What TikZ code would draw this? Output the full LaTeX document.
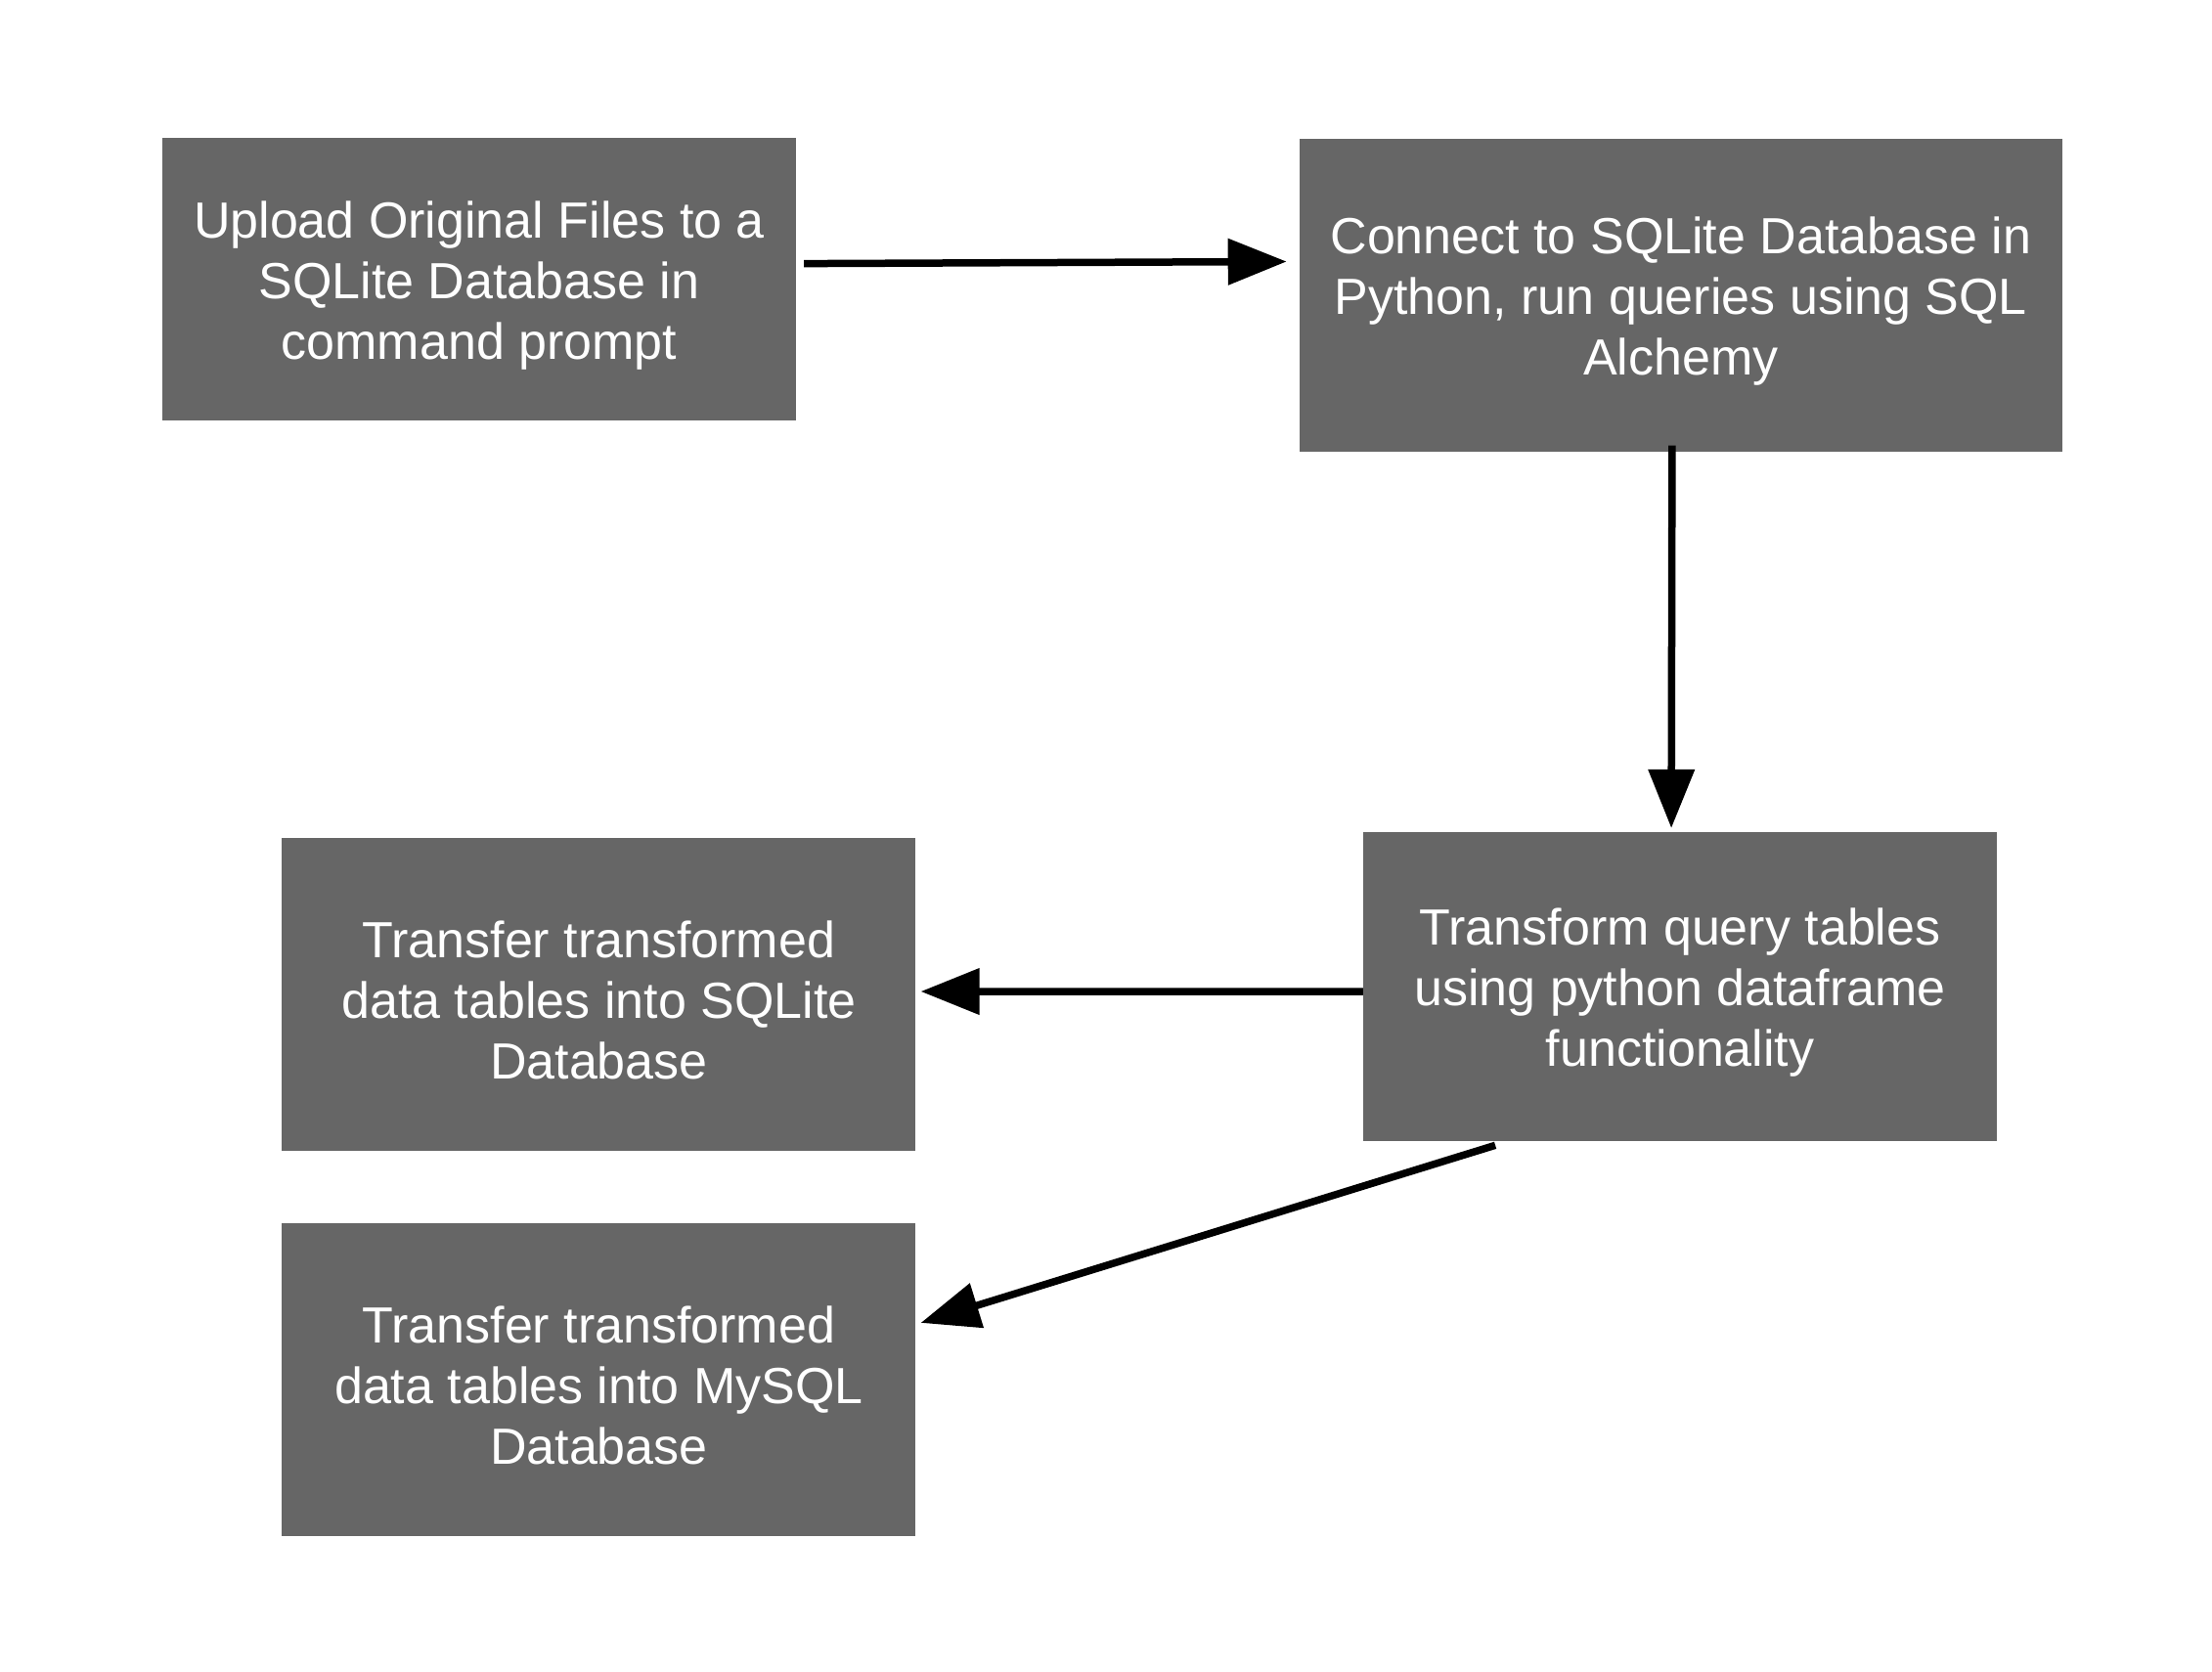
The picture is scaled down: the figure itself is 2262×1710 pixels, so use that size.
\documentclass[tikz,border=0pt]{standalone}
\usepackage{fontspec}
\setmainfont{Liberation Sans}
\usetikzlibrary{arrows.meta}
\definecolor{slate}{RGB}{102, 102, 102}
\definecolor{ink}{RGB}{0, 0, 0}
\newcommand{\topstrut}{\rule{0pt}{50pt}}
\begin{document}
\begin{tikzpicture}[x=1pt, y=-1pt,
        stepbox/.style={fill=slate, draw=none, text=white, align=center, inner sep=0pt,
                        minimum width=648pt, minimum height=320pt,
                        font=\fontsize{52}{62}\selectfont},
        flow/.style={draw=ink, line width=7.5pt, -{Triangle[length=60pt, width=46pt]}}]
            \useasboundingbox (0, 0) rectangle (2262, 1710);
            \fill[white] (0, 0) rectangle (2262, 1710);
            \node[stepbox, minimum height=289pt]      (upload)    at ( 490.0,  285.6) {\topstrut Upload Original Files to a\\SQLite Database in\\command prompt};
            \node[stepbox, minimum width=780pt]       (connect)   at (1718.9,  301.5) {\topstrut Connect to SQLite Database in\\Python, run queries using SQL\\Alchemy};
            \node[stepbox, minimum height=316pt]      (transform) at (1718.1, 1009.1) {\topstrut Transform query tables\\using python dataframe\\functionality};
            \node[stepbox]                            (tosqlite)  at ( 612.4, 1017.0) {\topstrut Transfer transformed\\data tables into SQLite\\Database};
            \node[stepbox]                            (tomysql)   at ( 612.4, 1410.9) {\topstrut Transfer transformed\\data tables into MySQL\\Database};
            \draw[flow] ([xshift=8pt, yshift=16pt]upload.east)      -- ([xshift=-13pt, yshift=34pt]connect.west);
            \draw[flow] ([xshift=-9pt, yshift=6pt]connect.south)    -- ([xshift=-9pt, yshift=4pt]transform.north);
            \draw[flow] ([yshift=-5pt]transform.west)               -- ([xshift=5pt, yshift=3pt]tosqlite.east);
            \draw[flow] ([xshift=-189pt, yshift=-4pt]transform.south) -- ([xshift=5pt, yshift=58pt]tomysql.east);
        \end{tikzpicture}
\end{document}
